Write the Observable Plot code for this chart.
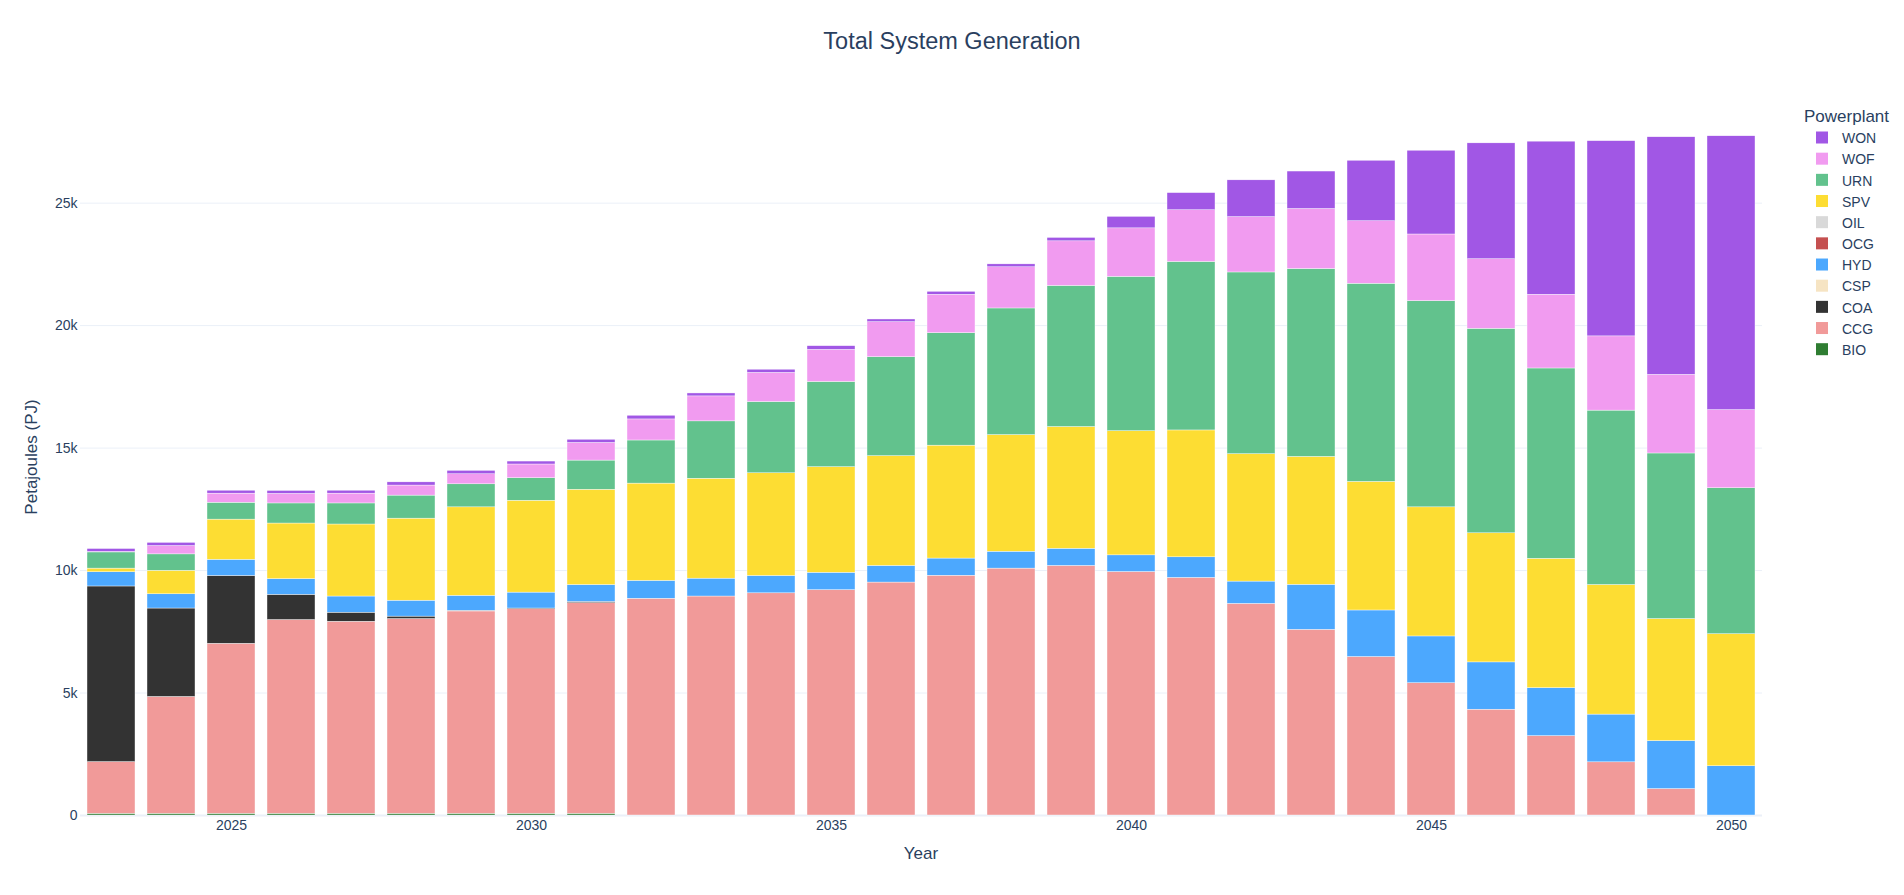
<!DOCTYPE html>
<html><head><meta charset="utf-8">
<script src="https://cdn.jsdelivr.net/npm/d3@7"></script>
<script src="https://cdn.jsdelivr.net/npm/@observablehq/plot@0.6"></script>
<style>
body{margin:0;background:#fff;}
#wrap{position:relative;width:1904px;height:895px;overflow:hidden;}
#overlay{position:absolute;left:0;top:0;pointer-events:none;}
</style></head><body>
<div id="wrap"><div id="chart"></div><svg id="overlay" width="1904" height="895"></svg></div>
<script>
const years = [2023,2024,2025,2026,2027,2028,2029,2030,2031,2032,2033,2034,2035,2036,2037,2038,2039,2040,2041,2042,2043,2044,2045,2046,2047,2048,2049,2050];
// stacking order, bottom to top
const plants = ["BIO","CCG","COA","CSP","HYD","OCG","OIL","SPV","URN","WOF","WON"];
const colors = ["#2f7d32","#f19a99","#333333","#f6e4c3","#4ca8fe","#c55050","#d9d9d9","#fddd33","#62c28d","#f19bf0","#a157e5"];

const BIO = [70,70,70,70,70,70,70,70,70,0,0,0,0,0,0,0,0,0,0,0,0,0,0,0,0,0,0,0];
const CCG = [2110,4770,6940,7910,7840,7950,8260,8350,8600,8850,8940,9070,9200,9510,9790,10080,10190,9940,9700,8640,7580,6470,5400,4320,3240,2170,1080,0];
const COA = [7170,3610,2770,1030,370,100,30,30,50,0,0,0,0,0,0,0,0,0,0,0,0,0,0,0,0,0,0,0];
const CSP = [0,0,0,0,0,0,0,0,0,0,0,0,0,0,0,0,0,0,0,0,0,0,0,0,0,0,0,0];
const HYD = [580,580,660,640,660,650,610,650,690,730,730,710,710,680,700,690,700,680,840,910,1840,1900,1910,1930,1960,1950,1960,2010];
const OCG = [0,0,0,0,0,0,0,0,0,0,0,0,0,0,0,0,0,0,0,0,0,0,0,0,0,0,0,0];
const OIL = [0,0,0,0,0,0,0,0,0,0,0,0,0,0,0,0,0,0,0,0,0,0,0,0,0,0,0,0];
const SPV = [150,960,1640,2270,2940,3350,3610,3750,3890,3970,4080,4190,4310,4480,4610,4760,4970,5070,5180,5200,5220,5250,5270,5270,5280,5290,4980,5390];
const URN = [660,670,690,820,860,940,940,920,1190,1760,2340,2910,3480,4040,4590,5170,5760,6300,6880,7420,7670,8090,8420,8350,7770,7120,6760,5960];
const WOF = [20,340,370,390,400,410,410,560,720,860,1020,1190,1310,1430,1570,1680,1820,1980,2110,2260,2450,2550,2720,2840,3010,3030,3210,3190];
const WON = [120,130,120,120,120,130,140,120,130,150,120,130,150,110,120,120,140,470,700,1500,1530,2470,3420,4730,6250,7970,9700,11180];

const xTicks = [2025,2030,2035,2040,2045,2050];
const yTicks = [0,5000,10000,15000,20000,25000];
const yTickLabels = ["0","5k","10k","15k","20k","25k"];

const series = {BIO,CCG,COA,CSP,HYD,OCG,OIL,SPV,URN,WOF,WON};
const data = plants.flatMap(p => years.map((yr,i) => ({year: yr, plant: p, value: series[p][i]})));

const FONT = '"Liberation Sans", Arial, sans-serif';
const INK = "#2a3f5f";

const chart = Plot.plot({
  width: 1904, height: 895,
  marginLeft: 80, marginRight: 142, marginTop: 100, marginBottom: 80,
  style: {fontFamily: FONT, fontSize: "14px", color: INK, background: "white"},
  x: {type: "band", domain: years, paddingInner: 0.2, paddingOuter: 0.1},
  y: {domain: [0, 29190]},
  color: {domain: plants, range: colors},
  marks: [
    Plot.gridY(yTicks, {stroke: "#EBF0F8", strokeOpacity: 1, strokeWidth: 1}),
    Plot.ruleY([0], {stroke: "#EBF0F8", strokeWidth: 2}),
    Plot.barY(data, {x: "year", y: "value", fill: "plant", order: plants, stroke: "white", strokeWidth: 0.4}),
    Plot.axisX(xTicks, {tickSize: 0, tickPadding: 5, tickFormat: d => String(d), label: null, fontSize: 14, fill: INK}),
    Plot.axisY(yTicks, {tickSize: 0, tickPadding: 3, tickFormat: d => yTickLabels[yTicks.indexOf(d)], label: null, fontSize: 14, fill: INK})
  ]
});
document.getElementById("chart").appendChild(chart);

// overlay: title, axis titles, legend
const ov = d3.select("#overlay").style("font-family", FONT).style("fill", INK);
ov.append("text").attr("x", 952).attr("y", 49).attr("text-anchor", "middle")
  .style("font-size", "23.5px").text("Total System Generation");
ov.append("text").attr("x", 921).attr("y", 859).attr("text-anchor", "middle")
  .style("font-size", "17px").text("Year");
ov.append("text").attr("transform", "translate(37,457) rotate(-90)").attr("text-anchor", "middle")
  .style("font-size", "17px").text("Petajoules (PJ)");

const leg = ov.append("g");
leg.append("text").attr("x", 1804).attr("y", 122).style("font-size", "17px").text("Powerplant");
const legendOrder = plants.slice().reverse();
legendOrder.forEach((p, i) => {
  const base = 143.3 + i * 21.17;
  leg.append("rect").attr("x", 1816).attr("y", base - 11.8).attr("width", 12).attr("height", 12)
    .attr("fill", colors[plants.indexOf(p)]);
  leg.append("text").attr("x", 1842).attr("y", base).style("font-size", "14px").text(p);
});
</script>
</body></html>
